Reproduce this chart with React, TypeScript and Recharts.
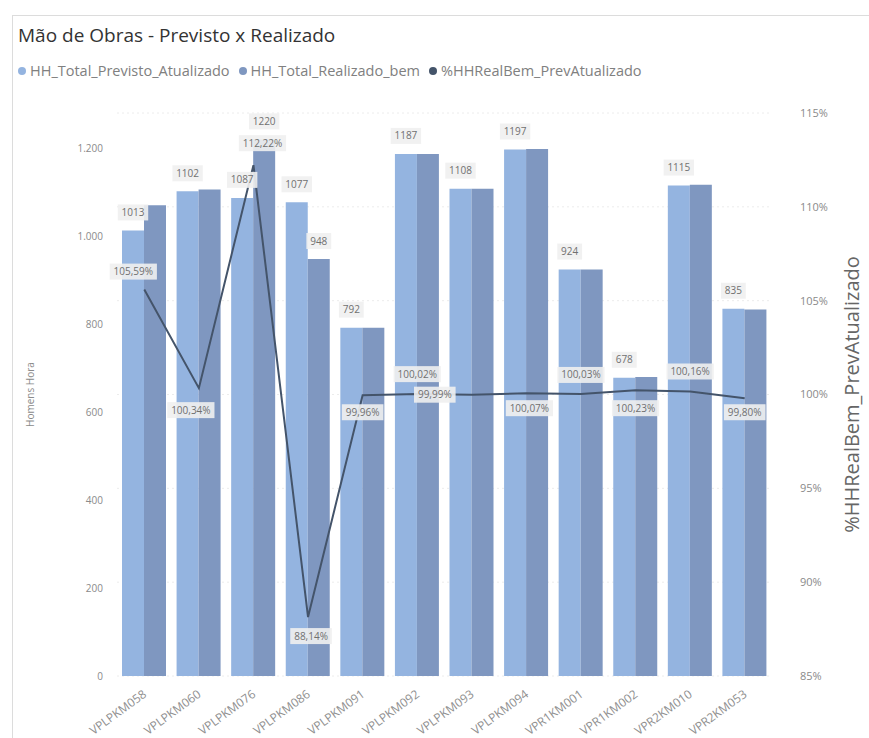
import React from "react";
import { ComposedChart, Bar, Line, XAxis, YAxis, CartesianGrid, LabelList } from "recharts";

const categories = [
  "VPLPKM058", "VPLPKM060", "VPLPKM076", "VPLPKM086", "VPLPKM091", "VPLPKM092",
  "VPLPKM093", "VPLPKM094", "VPR1KM001", "VPR1KM002", "VPR2KM010", "VPR2KM053",
];
const previsto = [1013, 1102, 1087, 1077, 792, 1187, 1108, 1197, 924, 678, 1115, 835];
const realizado = [1070, 1106, 1220, 948, 792, 1187, 1108, 1198, 924, 680, 1117, 833];
const percentual = [105.59, 100.34, 112.22, 88.14, 99.96, 100.02, 99.99, 100.07, 100.03, 100.23, 100.16, 99.8];

const leftTicks = [0, 200, 400, 600, 800, 1000, 1200];
const rightTicks = [85, 90, 95, 100, 105, 110, 115];

const data = categories.map((name, i) => ({
  name,
  prev: previsto[i],
  real: realizado[i],
  pct: percentual[i],
}));

// where Power BI dropped each % label relative to its point
const pctLabelShift: [number, number][] = [
  [-11, -18], [-8, 22], [9, -22], [3, 19], [0, 17], [0, -20],
  [-37, 0], [3, 15], [0, -19], [0, 18], [0, -20], [0, 14],
];

const FONT = "'Segoe UI', 'Open Sans', 'Noto Sans', sans-serif";
const LIGHT = "#94b4e0";
const DARK = "#7f97c0";
const LINE = "#44546a";

const Box = ({ cx, cy, text }: { cx: number; cy: number; text: string }) => {
  const w = text.length * 5.6 + 8;
  return (
    <g>
      <rect x={cx - w / 2} y={cy - 8} width={w} height={16} fill="#f0f0f0" fillOpacity={0.9} />
      <text x={cx} y={cy + 3.5} textAnchor="middle" fontSize={10} fill="#707070" fontFamily={FONT}>
        {text}
      </text>
    </g>
  );
};

const fmtPct = (v: number) => v.toFixed(2).replace(".", ",") + "%";

const PrevLabel = (props: any) => {
  const { x, y, width, value } = props;
  return <Box cx={x + width / 2} cy={y - 18} text={String(value)} />;
};

const RealLabel = (props: any) => {
  const { x, y, width, value, index } = props;
  if (Math.abs(realizado[index] - previsto[index]) < 100) return null;
  return <Box cx={x + width / 2} cy={y - 18} text={String(value)} />;
};

const PctLabel = (props: any) => {
  const { x, y, value, index } = props;
  const [dx, dy] = pctLabelShift[index] || [0, -18];
  return <Box cx={x + dx} cy={y + dy} text={fmtPct(value)} />;
};

const XTick = (props: any) => {
  const { x, y, payload } = props;
  return (
    <g transform={`translate(${x + 3},${y + 12})`}>
      <text textAnchor="end" transform="rotate(-36)" fontSize={12} fill="#8f8f8f" fontFamily={FONT}>
        {payload.value}
      </text>
    </g>
  );
};

const legendItems = [
  { label: "HH_Total_Previsto_Atualizado", color: LIGHT },
  { label: "HH_Total_Realizado_bem", color: DARK },
  { label: "%HHRealBem_PrevAtualizado", color: LINE },
];

export default function App() {
  return (
    <div style={{ position: "absolute", left: 0, top: 0, width: 869, height: 738, background: "#fff", fontFamily: FONT, overflow: "hidden" }}>
      <div style={{ position: "absolute", left: 12, top: 15, right: 0, bottom: 0, borderLeft: "1px solid #dcdcdc", borderTop: "1px solid #dcdcdc" }} />
      <div style={{ position: "absolute", left: 18, top: 22, fontSize: 19, color: "#333" }}>
        Mão de Obras - Previsto x Realizado
      </div>
      <div style={{ position: "absolute", left: 18, top: 61, display: "flex", gap: 9, fontSize: 14.5, color: "#808080" }}>
        {legendItems.map((it) => (
          <span key={it.label} style={{ display: "flex", alignItems: "center", gap: 4 }}>
            <span style={{ width: 8, height: 8, borderRadius: 4, background: it.color, display: "inline-block" }} />
            {it.label}
          </span>
        ))}
      </div>
      <div style={{ position: "absolute", left: 0, top: 0 }}>
        <ComposedChart
          width={869}
          height={738}
          data={data}
          margin={{ top: 113, right: 0, bottom: 0, left: 0 }}
          barCategoryGap={5}
          barGap={0}
        >
          <CartesianGrid yAxisId="right" vertical={false} stroke="#ececec" strokeDasharray="2 3" />
          <XAxis
            dataKey="name"
            height={62}
            interval={0}
            tick={<XTick />}
            tickLine={false}
            axisLine={false}
          />
          <YAxis
            yAxisId="left"
            width={117}
            domain={[0, 1280]}
            ticks={leftTicks}
            tickFormatter={(v: number) => v.toLocaleString("pt-BR")}
            tick={{ fontSize: 10, fill: "#8a8a8a", fontFamily: FONT }}
            tickSize={0}
            tickMargin={14}
            tickLine={false}
            axisLine={false}
            label={{ value: "Homens Hora", angle: -90, position: "insideLeft", offset: 30, style: { fontSize: 10, fill: "#8a8a8a", fontFamily: FONT, textAnchor: "middle" } }}
          />
          <YAxis
            yAxisId="right"
            orientation="right"
            width={97}
            domain={[85, 115]}
            ticks={rightTicks}
            tickFormatter={(v: number) => `${v}%`}
            tick={{ fontSize: 11, fill: "#8a8a8a", fontFamily: FONT }}
            tickSize={0}
            tickMargin={28}
            tickLine={false}
            axisLine={false}
            label={{ value: "%HHRealBem_PrevAtualizado", angle: -90, position: "insideRight", offset: 17, style: { fontSize: 20, fill: "#666", fontFamily: FONT, textAnchor: "middle" } }}
          />
          <Bar yAxisId="left" dataKey="prev" fill={LIGHT} isAnimationActive={false}>
            <LabelList dataKey="prev" content={<PrevLabel />} />
          </Bar>
          <Bar yAxisId="left" dataKey="real" fill={DARK} isAnimationActive={false}>
            <LabelList dataKey="real" content={<RealLabel />} />
          </Bar>
          <Line
            yAxisId="right"
            type="linear"
            dataKey="pct"
            stroke={LINE}
            strokeWidth={2}
            dot={false}
            isAnimationActive={false}
          >
            <LabelList dataKey="pct" content={<PctLabel />} />
          </Line>
        </ComposedChart>
      </div>
    </div>
  );
}
